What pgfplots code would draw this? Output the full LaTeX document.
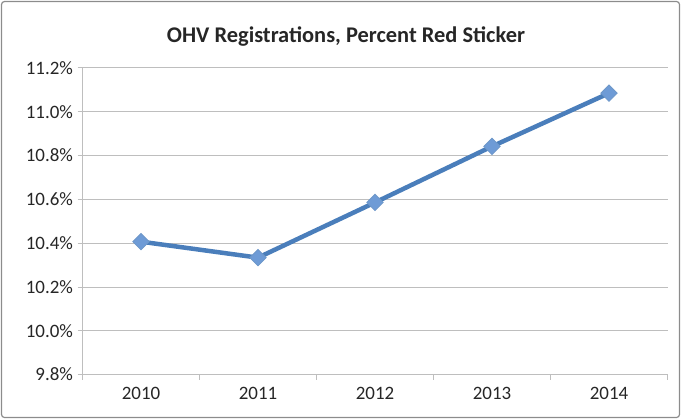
\documentclass[border=0pt]{standalone}
\usepackage{pgfplots}
\pgfplotsset{compat=1.18}
\usepackage{fontspec}
\setmainfont{Carlito}
\definecolor{lineblue}{HTML}{4A7EBB}
\definecolor{markfill}{HTML}{6E9BD6}
\definecolor{gridgray}{HTML}{BEBEBE}
\definecolor{framegray}{HTML}{8C8C8C}
\begin{document}
\begin{tikzpicture}[x=1bp,y=1bp]
\useasboundingbox (0,0) rectangle (681,419);
\draw[framegray,line width=1.2bp,rounded corners=3bp] (1.5,1.5) rectangle (679.5,417.5);
\node[font=\bfseries\fontsize{22.5}{24}\selectfont, text=black!85] at (346,382) {OHV Registrations, Percent Red Sticker};
\begin{axis}[
  at={(82.5bp,44.4bp)}, anchor=south west,
  scale only axis, width=585bp, height=306.6bp,
  xmin=-0.5, xmax=4.5, ymin=9.8, ymax=11.2,
  xtick={0,1,2,3,4}, xticklabels={2010,2011,2012,2013,2014},
  minor xtick={-0.5,0.5,1.5,2.5,3.5,4.5},
  major x tick style={draw=none},
  minor tick length=5bp,
  ytick={9.8,10.0,10.2,10.4,10.6,10.8,11.0,11.2},
  yticklabels={9.8\%,10.0\%,10.2\%,10.4\%,10.6\%,10.8\%,11.0\%,11.2\%},
  major tick length=5bp,
  tick align=outside,
  tick style={gridgray, line width=1bp},
  ymajorgrids, grid style={gridgray, line width=1bp},
  axis x line*=bottom, axis y line*=left,
  axis line style={-, gridgray, line width=1bp},
  ticklabel style={font=\fontsize{19}{20}\selectfont, text=black!85},
  xticklabel style={yshift=-4bp},
  yticklabel style={xshift=-1bp},
  clip=false,
]
\addplot[lineblue, line width=4.5bp, mark=square*, mark size=5.8bp,
  mark options={rotate=45, fill=markfill, draw=lineblue!80, line width=0.8bp}]
  coordinates {(0,10.407) (1,10.334) (2,10.586) (3,10.842) (4,11.085)};
\end{axis}
\end{tikzpicture}
\end{document}
